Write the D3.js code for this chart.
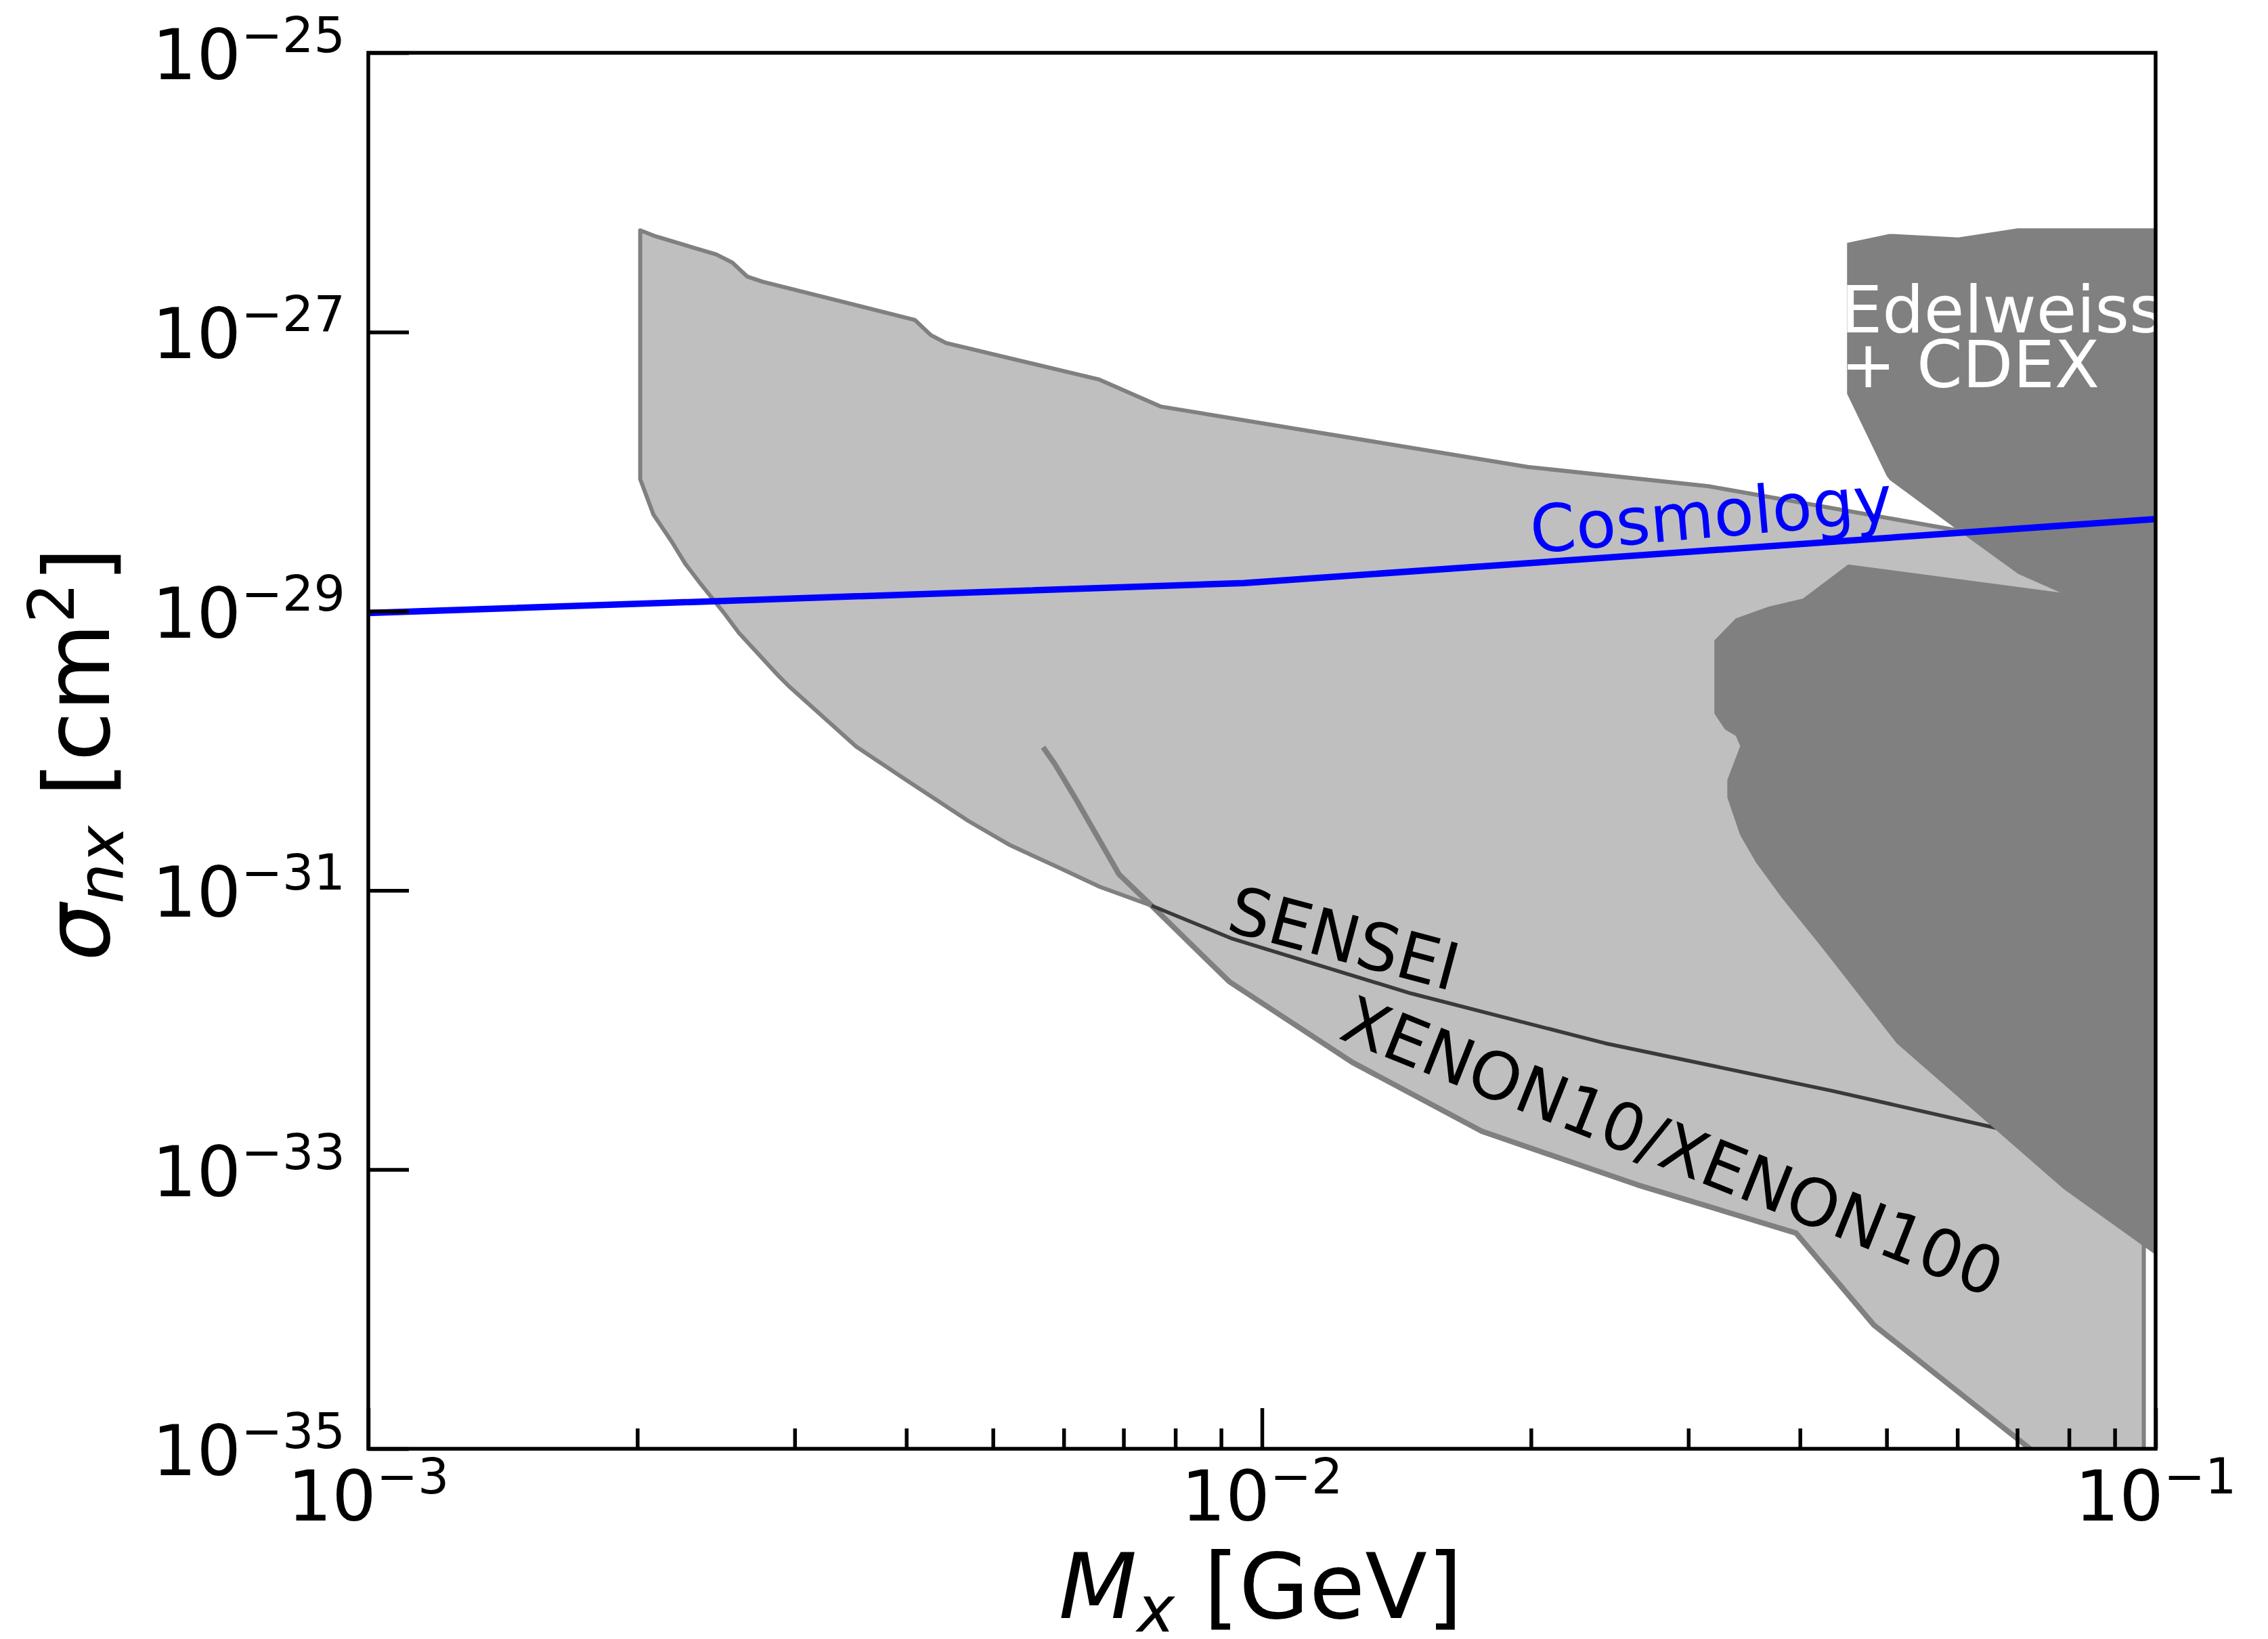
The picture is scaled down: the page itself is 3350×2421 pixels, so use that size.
<!DOCTYPE html>
<html><head><meta charset="utf-8">
<script src="https://cdn.jsdelivr.net/npm/d3@7"></script>
<style>
html,body{margin:0;padding:0;background:#fff;}
svg{display:block;}
text{font-family:"DejaVu Sans";white-space:pre;}
</style>
</head><body>
<svg id="chart" width="3350" height="2421"></svg>
<script>
// ---------- data (mass in GeV, cross-section in cm^2) ----------
const massMajorTicks = [1e-3, 1e-2, 1e-1];
const massTickExponents = ["\u22123", "\u22122", "\u22121"];
const massMinorTicks = [2e-3,3e-3,4e-3,5e-3,6e-3,7e-3,8e-3,9e-3,2e-2,3e-2,4e-2,5e-2,6e-2,7e-2,8e-2,9e-2];
const sigmaTicks = [1e-25, 1e-27, 1e-29, 1e-31, 1e-33, 1e-35];
const sigmaTickExponents = ["\u221225","\u221227","\u221229","\u221231","\u221233","\u221235"];

// light excluded region: upper boundary
const lightUpperMass  = [2.015e-3, 2.098e-3, 2.452e-3, 2.555e-3, 2.656e-3, 2.762e-3, 4.089e-3, 4.262e-3, 4.431e-3, 6.564e-3, 7.712e-3, 1.983e-2, 3.162e-2, 6.01e-2, 7.92e-2, 9.70e-2];
const lightUpperSigma = [5.35e-27, 4.84e-27, 3.59e-27, 3.14e-27, 2.49e-27, 2.29e-27, 1.22e-27, 9.48e-28, 8.34e-28, 4.58e-28, 2.92e-28, 1.08e-28, 7.85e-29, 3.79e-29, 2.13e-29, 1.61e-29];
// light region right edge bottom
const lightRightMass  = [9.70e-2];
const lightRightSigma = [8.0e-36];
// light region lower-left boundary
const lightLowerMass  = [2.015e-3, 2.085e-3, 2.184e-3, 2.263e-3, 2.356e-3, 2.496e-3, 2.598e-3, 2.878e-3, 2.956e-3, 3.517e-3, 4.018e-3, 4.695e-3, 5.224e-3, 5.918e-3, 6.587e-3, 7.524e-3];
const lightLowerSigma = [8.83e-29, 4.92e-29, 3.17e-29, 2.19e-29, 1.56e-29, 9.86e-30, 7.00e-30, 3.44e-30, 2.90e-30, 1.07e-30, 6.05e-31, 3.14e-31, 2.11e-31, 1.46e-31, 1.06e-31, 7.78e-32];

// XENON10 / XENON100 limit
const xenonMass  = [5.69e-3, 5.864e-3, 6.186e-3, 6.921e-3, 7.524e-3, 9.192e-3, 1.262e-2, 1.762e-2, 2.630e-2, 3.959e-2, 4.84e-2, 7.56e-2];
const xenonSigma = [1.06e-30, 8.04e-31, 4.55e-31, 1.30e-31, 7.78e-32, 2.22e-32, 5.87e-33, 1.88e-33, 7.78e-34, 3.51e-34, 7.69e-35, 8.0e-36];

// SENSEI limit
const senseiMass  = [7.524e-3, 9.268e-3, 1.467e-2, 2.420e-2, 4.339e-2, 7.154e-2];
const senseiSigma = [7.78e-32, 4.50e-32, 1.83e-32, 8.04e-33, 3.67e-33, 1.78e-33];

// Edelweiss + CDEX region
const edelweissMass  = [4.516e-2, 5.040e-2, 6.015e-2, 7.011e-2, 1e-1, 1e-1, 7.889e-2, 5.131e-2, 4.235e-2, 3.817e-2, 3.570e-2, 3.429e-2, 3.317e-2, 3.317e-2, 3.429e-2, 3.390e-2, 3.297e-2, 3.208e-2, 3.208e-2, 3.390e-2, 3.691e-2, 4.029e-2, 4.529e-2, 7.822e-2, 7.019e-2, 6.012e-2, 5.040e-2, 5.000e-2, 4.516e-2];
const edelweissSigma = [4.35e-27, 5.05e-27, 4.76e-27, 5.53e-27, 5.53e-27, 2.45e-34, 7.26e-34, 8.04e-33, 3.88e-32, 8.83e-32, 1.59e-31, 2.48e-31, 4.62e-31, 6.19e-31, 1.08e-30, 1.28e-30, 1.42e-30, 1.85e-30, 6.17e-30, 8.87e-30, 1.08e-29, 1.23e-29, 2.16e-29, 1.36e-29, 1.85e-29, 3.79e-29, 8.71e-29, 9.33e-29, 3.61e-28];

// Cosmology limit
const cosmoMass  = [1e-3, 9.55e-3, 1e-1];
const cosmoSigma = [9.70e-30, 1.59e-29, 4.57e-29];

// ---------- layout ----------
const L = 544, R = 3184, T = 78, B = 2140;
const svg = d3.select("#chart");
const x = d3.scaleLog().domain([1e-3, 1e-1]).range([L, R]);
const y = d3.scaleLog().domain([1e-35, 1e-25]).range([B, T]);
const zip = (a, b) => a.map((v, i) => [v, b[i]]);
const line = d3.line().x(d => x(d[0])).y(d => y(d[1]));

svg.append("rect").attr("width", 3350).attr("height", 2421).attr("fill", "#fff");
svg.append("defs").append("clipPath").attr("id", "plotclip")
  .append("rect").attr("x", L).attr("y", T).attr("width", R - L).attr("height", B - T);
const g = svg.append("g").attr("clip-path", "url(#plotclip)");

// light region polygon
const upper = zip(lightUpperMass, lightUpperSigma);
const right = zip(lightRightMass, lightRightSigma);
const xen = zip(xenonMass, xenonSigma);
const lower = zip(lightLowerMass, lightLowerSigma);
const xenLowerPart = xen.slice(4).reverse();      // from bottom up to the crossing
const lowerRev = lower.slice(0, lower.length - 1).reverse();
const lightPoly = upper.concat(right, xenLowerPart, lowerRev);
g.append("path").attr("d", line(lightPoly) + "Z")
  .attr("fill", "#bfbfbf").attr("stroke", "#808080").attr("stroke-width", 6)
  .attr("stroke-linejoin", "round");

// XENON line
g.append("path").attr("d", line(xen)).attr("fill", "none")
  .attr("stroke", "#808080").attr("stroke-width", 8).attr("stroke-linejoin", "round");
// SENSEI line
g.append("path").attr("d", line(zip(senseiMass, senseiSigma))).attr("fill", "none")
  .attr("stroke", "#3a3a3a").attr("stroke-width", 5.5).attr("stroke-linejoin", "round");

// Edelweiss + CDEX region
g.append("path").attr("d", line(zip(edelweissMass, edelweissSigma)) + "Z")
  .attr("fill", "#808080").attr("stroke", "none");

// Cosmology
g.append("path").attr("d", line(zip(cosmoMass, cosmoSigma))).attr("fill", "none")
  .attr("stroke", "#0000ff").attr("stroke-width", 9.5);

// annotations
const ed = svg.append("text").attr("x", 2719).attr("y", 491).attr("font-size", 97).attr("fill", "#fff");
ed.append("tspan").attr("x", 2719).text("Edelweiss");
ed.append("tspan").attr("x", 2719).attr("dy", 81).text("+ CDEX");
svg.append("text").attr("transform", "translate(2263,817) rotate(-5)").attr("font-size", 97)
  .attr("fill", "#0000ff").text("Cosmology");
svg.append("text").attr("transform", "translate(1809,1374) rotate(15)").attr("font-size", 97)
  .attr("fill", "#000").text("SENSEI");
svg.append("text").attr("transform", "translate(1975,1533) rotate(21.7)").attr("font-size", 97)
  .attr("fill", "#000").text("XENON10/XENON100");

// axes ticks (inward)
const axB = svg.append("g").attr("transform", `translate(0,${B})`);
axB.call(d3.axisBottom(x).tickValues(massMajorTicks).tickSize(-60).tickFormat(""));
const axBm = svg.append("g").attr("transform", `translate(0,${B})`);
axBm.call(d3.axisBottom(x).tickValues(massMinorTicks).tickSize(-30).tickFormat(""));
const axL = svg.append("g").attr("transform", `translate(${L},0)`);
axL.call(d3.axisLeft(y).tickValues(sigmaTicks).tickSize(-60).tickFormat(""));
svg.selectAll(".domain").remove();
svg.selectAll(".tick line").attr("stroke", "#000").attr("stroke-width", 5.5);

// frame
svg.append("rect").attr("x", L).attr("y", T).attr("width", R - L).attr("height", B - T)
  .attr("fill", "none").attr("stroke", "#000").attr("stroke-width", 5.5);

// tick labels
massMajorTicks.forEach((v, i) => {
  const t = svg.append("text").attr("x", x(v)).attr("y", 2246).attr("text-anchor", "middle").attr("fill", "#000");
  t.append("tspan").attr("font-size", 103).text("10");
  t.append("tspan").attr("font-size", 73).attr("dy", -40).text(massTickExponents[i]);
});
sigmaTicks.forEach((v, i) => {
  const t = svg.append("text").attr("x", 510).attr("y", y(v) + 39).attr("text-anchor", "end").attr("fill", "#000");
  t.append("tspan").attr("font-size", 103).text("10");
  t.append("tspan").attr("font-size", 73).attr("dy", -40).text(sigmaTickExponents[i]);
});

// axis labels
const xl = svg.append("text").attr("x", 1862).attr("y", 2390).attr("text-anchor", "middle").attr("font-size", 134).attr("fill", "#000");
xl.append("tspan").attr("font-style", "italic").text("M");
xl.append("tspan").attr("font-style", "italic").attr("font-size", 94).attr("dy", 20).text("x");
xl.append("tspan").attr("dy", -20).text(" [GeV]");

const yl = svg.append("text").attr("transform", "translate(161,1114) rotate(-90)").attr("text-anchor", "middle").attr("font-size", 134).attr("fill", "#000");
yl.append("tspan").attr("font-style", "italic").text("\u03c3");
yl.append("tspan").attr("font-style", "italic").attr("font-size", 94).attr("dy", 21).text("nx");
yl.append("tspan").attr("dy", -21).text(" [cm");
yl.append("tspan").attr("font-size", 94).attr("dy", -52).text("2");
yl.append("tspan").attr("dy", 52).text("]");
</script>
</body></html>
